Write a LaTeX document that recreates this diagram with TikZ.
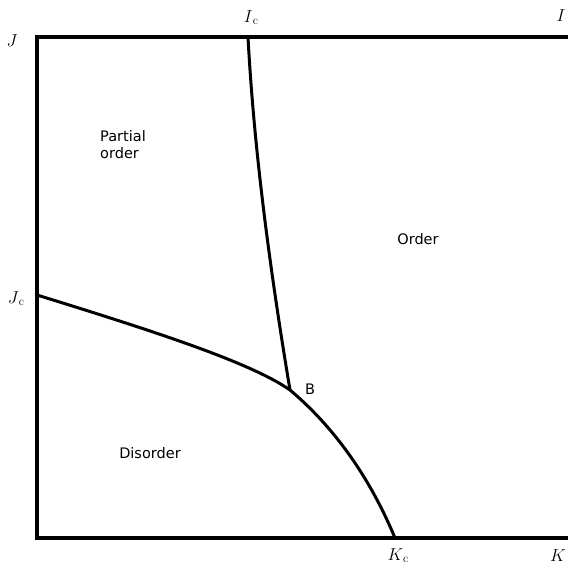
\documentclass[tikz,border=0pt]{standalone}
\usepackage{fontspec}
\setsansfont{DejaVu Sans}
\newcommand{\subc}{\raisebox{-2pt}{\fontsize{12}{12}\selectfont c}}
\begin{document}
\begin{tikzpicture}[x=1pt,y=-1pt,
  frame/.style={line width=3.2pt},
  curve/.style={line width=3pt},
  region/.style={font=\sffamily\fontsize{14.5}{17}\selectfont, align=left},
  axlab/.style={font=\fontsize{16}{18}\selectfont}]
\useasboundingbox (0,0) rectangle (568,568);
\coordinate (TL) at (37,37);
\coordinate (TR) at (570,37);
\coordinate (BL) at (37,538);
\coordinate (BR) at (570,538);
\coordinate (Ic) at (248,37);
\coordinate (Jc) at (37,295);
\coordinate (Kc) at (395,538);
\coordinate (B) at (290,390);
\draw[frame] (TR) -- (TL) -- (BL) -- (BR);
\draw[curve] (Jc) .. controls (150,330) and (250,362) .. (B);
\draw[curve] (B) .. controls (335,428) and (370,478) .. (Kc);
\draw[curve] (Ic) .. controls (254,150) and (270,270) .. (B);
\node[axlab] (lJ) at (12,41) {$J$};
\node[axlab] (lIc) at (251,18) {$I$\subc};
\node[axlab] (lI) at (561,16) {$I$};
\node[axlab] (lJc) at (16,299) {$J$\subc};
\node[axlab] (lKc) at (398,556) {$K$\subc};
\node[axlab] (lK) at (558,556) {$K$};
\node[region] (lB) at (310,389) {B};
\node[region] (po) at (123,145) {Partial\\order};
\node[region] (ord) at (418,239) {Order};
\node[region] (dis) at (150,453) {Disorder};
\end{tikzpicture}
\end{document}
